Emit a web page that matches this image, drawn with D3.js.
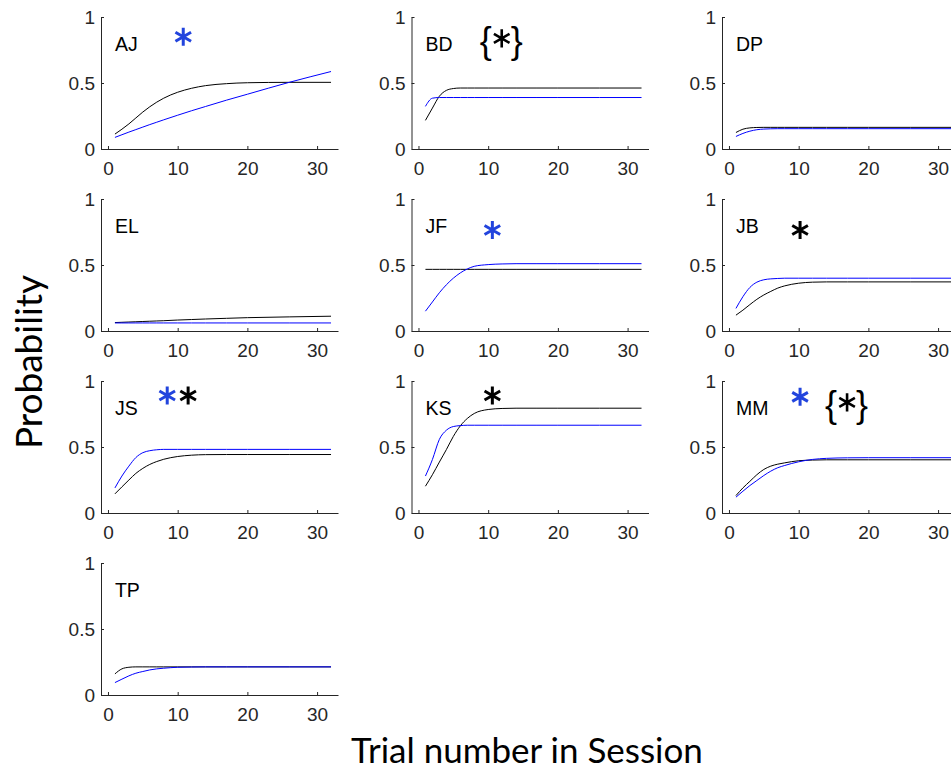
<!DOCTYPE html>
<html>
<head>
<meta charset="utf-8">
<script src="https://cdn.jsdelivr.net/npm/d3@7"></script>
<style>
  body { margin: 0; background: #fff; }
  svg { display: block; font-family: "Liberation Sans", Arial, sans-serif; }
  .axis path, .axis line { stroke: #262626; }
  .axis text { fill: #262626; font-size: 19px; font-family: "Liberation Sans", Arial, sans-serif; }
</style>
</head>
<body>
<script>
// one panel per subject, read row by row
const subjects = ['AJ', 'BD', 'DP', 'EL', 'JF', 'JB', 'JS', 'KS', 'MM', 'TP']
const trials = [1, 2, 3, 4, 5, 6, 7, 8, 10, 12, 14, 17, 20, 26, 32]

const blackSeries = [
  [0.113, 0.15, 0.19, 0.235, 0.28, 0.32, 0.355, 0.385, 0.43, 0.46, 0.48, 0.495, 0.502, 0.505, 0.505],
  [0.217, 0.31, 0.40, 0.444, 0.458, 0.462, 0.462, 0.462, 0.462, 0.462, 0.462, 0.462, 0.462, 0.462, 0.462],
  [0.125, 0.15, 0.16, 0.163, 0.164, 0.164, 0.164, 0.164, 0.164, 0.164, 0.164, 0.164, 0.164, 0.164, 0.164],
  [0.064, 0.066, 0.068, 0.070, 0.072, 0.074, 0.076, 0.078, 0.083, 0.087, 0.091, 0.096, 0.101, 0.107, 0.112],
  [0.467, 0.467, 0.467, 0.467, 0.467, 0.467, 0.467, 0.467, 0.467, 0.467, 0.467, 0.467, 0.467, 0.467, 0.467],
  [0.12, 0.158, 0.20, 0.24, 0.273, 0.30, 0.325, 0.342, 0.362, 0.37, 0.372, 0.372, 0.372, 0.372, 0.372],
  [0.145, 0.198, 0.25, 0.30, 0.338, 0.368, 0.39, 0.407, 0.428, 0.438, 0.442, 0.443, 0.443, 0.443, 0.443],
  [0.203, 0.29, 0.386, 0.48, 0.58, 0.66, 0.716, 0.754, 0.784, 0.792, 0.794, 0.794, 0.794, 0.794, 0.794],
  [0.132, 0.19, 0.24, 0.29, 0.33, 0.355, 0.37, 0.38, 0.396, 0.401, 0.403, 0.403, 0.403, 0.403, 0.403],
  [0.16, 0.198, 0.21, 0.213, 0.213, 0.213, 0.213, 0.213, 0.213, 0.213, 0.213, 0.213, 0.213, 0.213, 0.213]
]

const blueSeries = [
  [0.088, 0.108, 0.128, 0.147, 0.166, 0.185, 0.203, 0.221, 0.256, 0.29, 0.322, 0.37, 0.415, 0.505, 0.587],
  [0.323, 0.385, 0.39, 0.39, 0.39, 0.39, 0.39, 0.39, 0.39, 0.39, 0.39, 0.39, 0.39, 0.39, 0.39],
  [0.095, 0.118, 0.135, 0.146, 0.151, 0.153, 0.154, 0.154, 0.154, 0.154, 0.154, 0.154, 0.154, 0.154, 0.154],
  [0.061, 0.061, 0.061, 0.061, 0.061, 0.061, 0.061, 0.061, 0.061, 0.061, 0.061, 0.061, 0.061, 0.061, 0.061],
  [0.15, 0.22, 0.29, 0.35, 0.40, 0.44, 0.47, 0.49, 0.503, 0.508, 0.51, 0.51, 0.51, 0.51, 0.51],
  [0.171, 0.26, 0.33, 0.37, 0.388, 0.395, 0.398, 0.40, 0.40, 0.40, 0.40, 0.40, 0.40, 0.40, 0.40],
  [0.19, 0.28, 0.355, 0.42, 0.457, 0.472, 0.479, 0.482, 0.482, 0.482, 0.482, 0.482, 0.482, 0.482, 0.482],
  [0.28, 0.405, 0.558, 0.627, 0.655, 0.662, 0.665, 0.665, 0.665, 0.665, 0.665, 0.665, 0.665, 0.665, 0.665],
  [0.12, 0.165, 0.208, 0.246, 0.284, 0.317, 0.343, 0.36, 0.388, 0.406, 0.414, 0.418, 0.419, 0.419, 0.419],
  [0.094, 0.12, 0.145, 0.165, 0.178, 0.19, 0.198, 0.203, 0.21, 0.212, 0.213, 0.213, 0.213, 0.213, 0.213]
]

const xTicks = [0, 10, 20, 30]
const yTicks = [0, 0.5, 1]

// significance marks, in data units of their panel
const blueStars = [
  { subject: 'AJ', x: 10.8, y: 0.85 },
  { subject: 'JF', x: 10.6, y: 0.765 },
  { subject: 'JS', x: 8.5, y: 0.89 },
  { subject: 'MM', x: 10.2, y: 0.88 }
]
const blackStars = [
  { subject: 'JB', x: 10.2, y: 0.765 },
  { subject: 'JS', x: 11.5, y: 0.89 },
  { subject: 'KS', x: 10.6, y: 0.89 }
]
const bracedStars = [
  { subject: 'BD', x: 11.8, y: 0.80 },
  { subject: 'MM', x: 16.8, y: 0.80 }
]

const width = 951
const height = 769

const panel = {
  left: 101,
  top: 17,
  width: 237,
  height: 132,
  stepX: 310.5,
  stepY: 182
}

const x = d3.scaleLinear().domain([-1, 33]).range([0, panel.width])
const y = d3.scaleLinear().domain([0, 1]).range([panel.height, 0])

const line = d3.line()
  .x((d, j) => x(trials[j]))
  .y(d => y(d))
  .curve(d3.curveMonotoneX)

const star = d3.symbol().type(d3.symbolAsterisk).size(230)

const svg = d3.select('body')
  .append('svg')
  .attr('width', width)
  .attr('height', height)

svg.append('rect')
  .attr('width', width)
  .attr('height', height)
  .attr('fill', '#fff')

function drawStars(g, data, color) {
  g.selectAll(null)
    .data(data)
    .enter()
    .append('path')
    .attr('transform', d => `translate(${x(d.x)}, ${y(d.y)})`)
    .attr('d', star)
    .attr('fill', 'none')
    .attr('stroke', color)
    .attr('stroke-width', 3)
}

subjects.forEach((name, i) => {
  const col = i % 3
  const row = Math.floor(i / 3)
  const g = svg.append('g')
    .attr('transform', `translate(${panel.left + col * panel.stepX}, ${panel.top + row * panel.stepY})`)

  g.append('g')
    .attr('class', 'axis')
    .attr('transform', `translate(0, ${panel.height})`)
    .call(d3.axisBottom(x).tickValues(xTicks).tickSizeInner(-3).tickSizeOuter(0).tickPadding(13))

  g.append('g')
    .attr('class', 'axis')
    .call(d3.axisLeft(y).tickValues(yTicks).tickFormat(d3.format('')).tickSizeInner(-3).tickSizeOuter(0).tickPadding(6))

  g.append('path')
    .attr('d', line(blackSeries[i]))
    .attr('fill', 'none')
    .attr('stroke', '#000')
    .attr('stroke-width', 1)

  g.append('path')
    .attr('d', line(blueSeries[i]))
    .attr('fill', 'none')
    .attr('stroke', '#0000ff')
    .attr('stroke-width', 1)

  g.append('text')
    .attr('x', x(1))
    .attr('y', y(0.74))
    .attr('font-size', 19.5)
    .attr('fill', '#000')
    .text(name)

  drawStars(g, blueStars.filter(d => d.subject === name), '#2244dd')
  drawStars(g, blackStars.filter(d => d.subject === name), '#000')

  // "{*}" : braces as text, star as symbol
  const braced = g.selectAll(null)
    .data(bracedStars.filter(d => d.subject === name))
    .enter()
    .append('g')
    .attr('transform', d => `translate(${x(d.x)}, ${y(d.y)})`)

  braced.append('text')
    .attr('x', -9)
    .attr('y', 10)
    .attr('text-anchor', 'end')
    .attr('font-size', 36)
    .attr('fill', '#000')
    .text('{')

  braced.append('text')
    .attr('x', 10)
    .attr('y', 10)
    .attr('text-anchor', 'start')
    .attr('font-size', 36)
    .attr('fill', '#000')
    .text('}')

  braced.append('path')
    .attr('transform', 'translate(1, -5)')
    .attr('d', star)
    .attr('fill', 'none')
    .attr('stroke', '#000')
    .attr('stroke-width', 2.6)
})

svg.append('text')
  .attr('transform', 'translate(42, 362) rotate(-90)')
  .attr('text-anchor', 'middle')
  .attr('font-family', 'Lato, "Open Sans", sans-serif')
  .attr('font-size', 37)
  .attr('fill', '#000')
  .text('Probability')

svg.append('text')
  .attr('x', 527)
  .attr('y', 763)
  .attr('text-anchor', 'middle')
  .attr('font-family', 'Lato, "Open Sans", sans-serif')
  .attr('font-size', 35)
  .attr('fill', '#000')
  .text('Trial number in Session')
</script>
</body>
</html>
